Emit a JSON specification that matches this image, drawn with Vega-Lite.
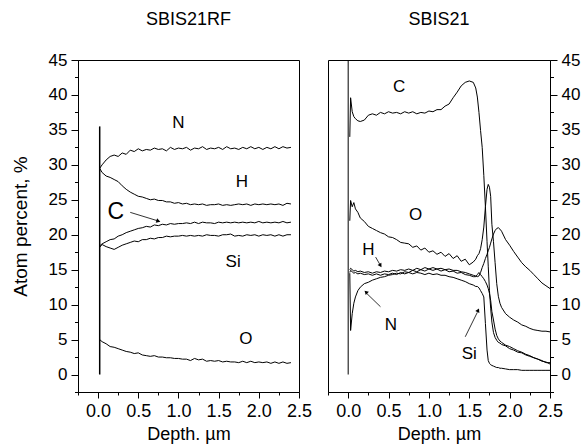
{
  "$schema": "https://vega.github.io/schema/vega-lite/v6.json",
  "padding": {"left": 10, "top": 10, "right": 0, "bottom": 0},
  "bounds": "flush",
  "spacing": 29,
  "config": {
    "font": "Liberation Sans",
    "view": {"stroke": "black", "strokeWidth": 1},
    "axis": {"domainColor": "black", "tickColor": "black", "labelColor": "black", "titleColor": "black", "grid": false, "titleFontWeight": "normal", "domainWidth": 1, "tickWidth": 1, "labelFontSize": 17, "titleFontSize": 18},
    "title": {"fontWeight": "normal", "fontSize": 18, "color": "black"},
    "line": {"color": "black", "strokeWidth": 1},
    "text": {"color": "black", "fontSize": 17}
  },
  "datasets": {
    "left": [
      {"x": 0.02, "N": 29.5, "H": 29.5, "C": 18.4, "Si": 18.2, "O": 5.0},
      {"x": 0.05, "N": 30.0, "H": 28.9, "C": 18.7, "Si": 18.6, "O": 4.7},
      {"x": 0.10, "N": 30.7, "H": 28.4, "C": 19.0, "Si": 18.3, "O": 4.4},
      {"x": 0.15, "N": 31.2, "H": 28.2, "C": 19.3, "Si": 18.1, "O": 4.0},
      {"x": 0.20, "N": 31.4, "H": 27.9, "C": 19.4, "Si": 17.9, "O": 3.9},
      {"x": 0.25, "N": 31.2, "H": 27.6, "C": 19.8, "Si": 18.2, "O": 3.7},
      {"x": 0.30, "N": 31.7, "H": 27.0, "C": 20.0, "Si": 18.5, "O": 3.5},
      {"x": 0.35, "N": 31.5, "H": 26.5, "C": 20.3, "Si": 18.7, "O": 3.3},
      {"x": 0.40, "N": 32.1, "H": 26.1, "C": 20.5, "Si": 18.9, "O": 3.2},
      {"x": 0.45, "N": 31.9, "H": 25.8, "C": 20.7, "Si": 19.1, "O": 3.0},
      {"x": 0.50, "N": 32.3, "H": 25.5, "C": 20.9, "Si": 19.0, "O": 3.1},
      {"x": 0.55, "N": 32.0, "H": 25.4, "C": 21.0, "Si": 19.3, "O": 2.8},
      {"x": 0.60, "N": 32.2, "H": 25.2, "C": 21.2, "Si": 19.3, "O": 2.7},
      {"x": 0.65, "N": 32.1, "H": 25.0, "C": 21.1, "Si": 19.5, "O": 2.6},
      {"x": 0.70, "N": 32.4, "H": 25.1, "C": 21.4, "Si": 19.4, "O": 2.7},
      {"x": 0.75, "N": 32.2, "H": 24.9, "C": 21.3, "Si": 19.6, "O": 2.5},
      {"x": 0.80, "N": 32.3, "H": 24.9, "C": 21.5, "Si": 19.6, "O": 2.5},
      {"x": 0.85, "N": 32.0, "H": 24.7, "C": 21.4, "Si": 19.8, "O": 2.4},
      {"x": 0.90, "N": 32.5, "H": 24.7, "C": 21.6, "Si": 19.7, "O": 2.4},
      {"x": 0.95, "N": 32.2, "H": 24.5, "C": 21.5, "Si": 19.8, "O": 2.3},
      {"x": 1.00, "N": 32.4, "H": 24.6, "C": 21.6, "Si": 19.8, "O": 2.3},
      {"x": 1.05, "N": 32.3, "H": 24.4, "C": 21.6, "Si": 19.9, "O": 2.2},
      {"x": 1.10, "N": 32.5, "H": 24.5, "C": 21.7, "Si": 19.8, "O": 2.2},
      {"x": 1.15, "N": 32.1, "H": 24.3, "C": 21.6, "Si": 19.9, "O": 2.0},
      {"x": 1.20, "N": 32.4, "H": 24.4, "C": 21.8, "Si": 19.8, "O": 2.3},
      {"x": 1.25, "N": 32.3, "H": 24.3, "C": 21.6, "Si": 19.9, "O": 2.1},
      {"x": 1.30, "N": 32.6, "H": 24.4, "C": 21.8, "Si": 19.8, "O": 2.2},
      {"x": 1.35, "N": 32.2, "H": 24.2, "C": 21.7, "Si": 20.0, "O": 1.9},
      {"x": 1.40, "N": 32.4, "H": 24.3, "C": 21.7, "Si": 19.9, "O": 2.0},
      {"x": 1.45, "N": 32.3, "H": 24.3, "C": 21.6, "Si": 19.9, "O": 1.9},
      {"x": 1.50, "N": 32.5, "H": 24.4, "C": 21.8, "Si": 19.8, "O": 2.0},
      {"x": 1.55, "N": 32.2, "H": 24.2, "C": 21.7, "Si": 20.0, "O": 1.8},
      {"x": 1.60, "N": 32.6, "H": 24.3, "C": 21.8, "Si": 20.0, "O": 1.9},
      {"x": 1.65, "N": 32.3, "H": 24.2, "C": 21.7, "Si": 20.1, "O": 1.8},
      {"x": 1.70, "N": 32.4, "H": 24.3, "C": 21.8, "Si": 19.8, "O": 1.8},
      {"x": 1.75, "N": 32.2, "H": 24.4, "C": 21.7, "Si": 19.9, "O": 1.7},
      {"x": 1.80, "N": 32.5, "H": 24.3, "C": 21.8, "Si": 19.8, "O": 1.9},
      {"x": 1.85, "N": 32.3, "H": 24.4, "C": 21.7, "Si": 20.0, "O": 1.7},
      {"x": 1.90, "N": 32.6, "H": 24.2, "C": 21.8, "Si": 19.9, "O": 1.9},
      {"x": 1.95, "N": 32.3, "H": 24.4, "C": 21.7, "Si": 20.0, "O": 1.7},
      {"x": 2.00, "N": 32.5, "H": 24.3, "C": 21.9, "Si": 19.8, "O": 1.8},
      {"x": 2.05, "N": 32.2, "H": 24.4, "C": 21.7, "Si": 20.0, "O": 1.7},
      {"x": 2.10, "N": 32.5, "H": 24.3, "C": 21.8, "Si": 19.9, "O": 1.8},
      {"x": 2.15, "N": 32.3, "H": 24.4, "C": 21.7, "Si": 20.0, "O": 1.6},
      {"x": 2.20, "N": 32.6, "H": 24.3, "C": 21.8, "Si": 19.8, "O": 1.8},
      {"x": 2.25, "N": 32.3, "H": 24.4, "C": 21.7, "Si": 20.0, "O": 1.6},
      {"x": 2.30, "N": 32.6, "H": 24.2, "C": 21.9, "Si": 19.8, "O": 1.8},
      {"x": 2.35, "N": 32.4, "H": 24.5, "C": 21.7, "Si": 20.0, "O": 1.6},
      {"x": 2.40, "N": 32.5, "H": 24.4, "C": 21.8, "Si": 20.0, "O": 1.7}
    ],
    "right": [
      {"x": 0.02, "C": 34.0, "O": 22.0, "H": 15.0, "N": 14.5, "Si": 14.6},
      {"x": 0.03, "C": 39.6, "O": 24.9, "H": 15.2, "N": 6.3, "Si": 14.9},
      {"x": 0.05, "C": 37.6, "O": 24.0, "H": 15.0, "N": 8.7, "Si": 14.7},
      {"x": 0.07, "C": 36.9, "O": 24.6, "H": 14.8, "N": 10.2, "Si": 14.5},
      {"x": 0.09, "C": 36.6, "O": 23.7, "H": 14.9, "N": 11.1, "Si": 14.6},
      {"x": 0.12, "C": 36.3, "O": 23.2, "H": 14.7, "N": 12.0, "Si": 14.4},
      {"x": 0.15, "C": 36.2, "O": 22.4, "H": 14.8, "N": 12.5, "Si": 14.5},
      {"x": 0.20, "C": 36.4, "O": 21.9, "H": 14.6, "N": 13.0, "Si": 14.3},
      {"x": 0.25, "C": 37.1, "O": 21.2, "H": 14.7, "N": 13.2, "Si": 14.4},
      {"x": 0.30, "C": 37.3, "O": 20.9, "H": 14.5, "N": 13.5, "Si": 14.2},
      {"x": 0.35, "C": 37.1, "O": 20.6, "H": 14.7, "N": 13.7, "Si": 14.4},
      {"x": 0.40, "C": 37.5, "O": 20.3, "H": 14.6, "N": 13.9, "Si": 14.2},
      {"x": 0.45, "C": 37.3, "O": 20.1, "H": 14.8, "N": 14.0, "Si": 14.4},
      {"x": 0.50, "C": 37.6, "O": 19.7, "H": 14.7, "N": 14.2, "Si": 14.3},
      {"x": 0.55, "C": 37.4, "O": 19.6, "H": 14.9, "N": 14.3, "Si": 14.5},
      {"x": 0.60, "C": 37.5, "O": 19.3, "H": 14.8, "N": 14.5, "Si": 14.3},
      {"x": 0.65, "C": 37.3, "O": 18.9, "H": 15.0, "N": 14.4, "Si": 14.6},
      {"x": 0.70, "C": 37.6, "O": 18.8, "H": 14.9, "N": 14.7, "Si": 14.4},
      {"x": 0.75, "C": 37.4, "O": 18.7, "H": 15.1, "N": 14.6, "Si": 14.6},
      {"x": 0.80, "C": 37.6, "O": 18.2, "H": 14.9, "N": 14.9, "Si": 14.4},
      {"x": 0.85, "C": 37.3, "O": 18.4, "H": 15.2, "N": 14.7, "Si": 14.6},
      {"x": 0.90, "C": 37.5, "O": 17.8, "H": 15.0, "N": 15.0, "Si": 14.5},
      {"x": 0.95, "C": 37.4, "O": 18.1, "H": 15.3, "N": 14.8, "Si": 14.3},
      {"x": 1.00, "C": 37.7, "O": 17.5, "H": 15.1, "N": 15.1, "Si": 14.5},
      {"x": 1.05, "C": 37.6, "O": 17.7, "H": 15.3, "N": 14.9, "Si": 14.3},
      {"x": 1.10, "C": 37.9, "O": 17.2, "H": 15.1, "N": 15.1, "Si": 14.4},
      {"x": 1.15, "C": 37.9, "O": 17.5, "H": 15.2, "N": 14.8, "Si": 14.2},
      {"x": 1.20, "C": 38.4, "O": 16.9, "H": 15.0, "N": 15.0, "Si": 14.2},
      {"x": 1.25, "C": 38.7, "O": 17.3, "H": 15.1, "N": 14.7, "Si": 14.0},
      {"x": 1.30, "C": 39.6, "O": 16.6, "H": 14.9, "N": 14.8, "Si": 13.9},
      {"x": 1.35, "C": 40.4, "O": 17.0, "H": 14.9, "N": 14.5, "Si": 13.7},
      {"x": 1.40, "C": 41.3, "O": 16.2, "H": 14.7, "N": 14.6, "Si": 13.5},
      {"x": 1.45, "C": 41.8, "O": 16.5, "H": 14.6, "N": 14.3, "Si": 13.3},
      {"x": 1.50, "C": 42.0, "O": 15.7, "H": 14.4, "N": 14.2, "Si": 13.0},
      {"x": 1.55, "C": 41.8, "O": 16.1, "H": 14.2, "N": 14.0, "Si": 12.8},
      {"x": 1.58, "C": 41.0, "O": 16.5, "H": 14.1, "N": 14.0, "Si": 12.6},
      {"x": 1.60, "C": 39.7, "O": 17.0, "H": 14.0, "N": 14.3, "Si": 12.6},
      {"x": 1.62, "C": 37.5, "O": 17.3, "H": 14.1, "N": 14.6, "Si": 12.4},
      {"x": 1.64, "C": 34.9, "O": 18.0, "H": 14.6, "N": 14.3, "Si": 12.0},
      {"x": 1.66, "C": 32.5, "O": 19.3, "H": 15.3, "N": 14.0, "Si": 11.6},
      {"x": 1.68, "C": 28.5, "O": 21.1, "H": 15.9, "N": 13.7, "Si": 11.1},
      {"x": 1.70, "C": 24.0, "O": 24.0, "H": 16.6, "N": 13.3, "Si": 7.3},
      {"x": 1.72, "C": 19.0, "O": 26.5, "H": 17.2, "N": 12.8, "Si": 3.5},
      {"x": 1.735, "C": 15.5, "O": 27.2, "H": 17.7, "N": 12.3, "Si": 2.0},
      {"x": 1.75, "C": 12.0, "O": 26.8, "H": 18.2, "N": 11.6, "Si": 1.6},
      {"x": 1.765, "C": 9.5, "O": 25.5, "H": 18.8, "N": 10.6, "Si": 1.4},
      {"x": 1.78, "C": 7.5, "O": 21.5, "H": 19.4, "N": 9.0, "Si": 1.3},
      {"x": 1.80, "C": 6.0, "O": 19.0, "H": 20.1, "N": 7.8, "Si": 1.2},
      {"x": 1.82, "C": 5.3, "O": 16.0, "H": 20.6, "N": 6.5, "Si": 1.1},
      {"x": 1.84, "C": 4.9, "O": 13.0, "H": 20.9, "N": 5.6, "Si": 1.0},
      {"x": 1.86, "C": 4.6, "O": 11.2, "H": 21.0, "N": 5.1, "Si": 1.0},
      {"x": 1.88, "C": 4.5, "O": 10.2, "H": 20.8, "N": 4.8, "Si": 0.9},
      {"x": 1.90, "C": 4.3, "O": 9.6, "H": 20.5, "N": 4.6, "Si": 0.9},
      {"x": 1.95, "C": 4.1, "O": 8.7, "H": 19.3, "N": 4.2, "Si": 0.8},
      {"x": 2.00, "C": 3.7, "O": 8.2, "H": 18.5, "N": 4.0, "Si": 0.7},
      {"x": 2.05, "C": 3.5, "O": 7.8, "H": 17.6, "N": 3.7, "Si": 0.7},
      {"x": 2.10, "C": 3.2, "O": 7.5, "H": 16.8, "N": 3.4, "Si": 0.7},
      {"x": 2.15, "C": 3.1, "O": 7.1, "H": 16.0, "N": 3.2, "Si": 0.6},
      {"x": 2.20, "C": 2.8, "O": 6.9, "H": 15.4, "N": 2.9, "Si": 0.6},
      {"x": 2.25, "C": 2.6, "O": 6.6, "H": 14.9, "N": 2.7, "Si": 0.6},
      {"x": 2.30, "C": 2.4, "O": 6.4, "H": 14.3, "N": 2.4, "Si": 0.6},
      {"x": 2.35, "C": 2.2, "O": 6.3, "H": 13.7, "N": 2.2, "Si": 0.6},
      {"x": 2.40, "C": 1.9, "O": 6.2, "H": 13.1, "N": 2.0, "Si": 0.6},
      {"x": 2.45, "C": 1.8, "O": 6.2, "H": 12.7, "N": 1.7, "Si": 0.6},
      {"x": 2.50, "C": 1.5, "O": 6.1, "H": 12.3, "N": 1.7, "Si": 0.6}
    ],
    "leftEdge": [{"x": 0.02, "y": 0}, {"x": 0.02, "y": 35.5}],
    "rightEdge": [{"x": 0.0, "y": 0}, {"x": 0.0, "y": 45}],
    "leftLabels": [
      {"x": 1.0, "y": 36.0, "t": "N"},
      {"x": 1.79, "y": 27.5, "t": "H"},
      {"x": 1.68, "y": 16.1, "t": "Si"},
      {"x": 1.84, "y": 5.1, "t": "O"}
    ],
    "leftBig": [{"x": 0.22, "y": 23.2, "t": "C"}],
    "rightLabels": [
      {"x": 0.63, "y": 41.1, "t": "C"},
      {"x": 0.835, "y": 22.8, "t": "O"},
      {"x": 0.25, "y": 17.8, "t": "H"},
      {"x": 0.53, "y": 7.1, "t": "N"},
      {"x": 1.50, "y": 3.0, "t": "Si"}
    ],
    "leftArrows": [
      {"a": "C", "x": 0.40, "y": 23.2}, {"a": "C", "x": 0.74, "y": 22.0}
    ],
    "rightArrows": [
      {"a": "H", "x": 0.34, "y": 16.8}, {"a": "H", "x": 0.39, "y": 15.8},
      {"a": "N", "x": 0.40, "y": 9.7}, {"a": "N", "x": 0.23, "y": 11.6},
      {"a": "Si", "x": 1.45, "y": 5.4}, {"a": "Si", "x": 1.60, "y": 8.9}
    ]
  },
  "hconcat": [
    {
      "width": 221,
      "height": 332,
      "title": {"text": "SBIS21RF", "offset": 22, "frame": "group"},
      "resolve": {"axis": {"x": "independent", "y": "independent"}},
      "layer": [
        {
          "data": {"name": "left"},
          "transform": [{"fold": ["N", "H", "C", "Si", "O"], "as": ["s", "y"]}],
          "mark": {"type": "line", "strokeWidth": 1},
          "encoding": {
            "x": {"field": "x", "type": "quantitative", "scale": {"domain": [-0.25, 2.5], "nice": false, "zero": false},
              "axis": {"title": "Depth. µm", "orient": "bottom", "values": [0, 0.5, 1, 1.5, 2, 2.5], "format": ".1f", "tickSize": 6,
                "labelFontSize": 18, "labelPadding": 4, "titlePadding": 5, "labelFlush": false}},
            "y": {"field": "y", "type": "quantitative", "scale": {"domain": [-2.5, 45], "nice": false, "zero": false},
              "axis": {"title": "Atom percent, %", "orient": "left", "values": [0, 5, 10, 15, 20, 25, 30, 35, 40, 45], "tickSize": 7,
                "titleFontSize": 19, "labelPadding": 4, "titlePadding": 18, "labelFlush": false}},
            "detail": {"field": "s"}
          }
        },
        {
          "data": {"name": "leftEdge"},
          "mark": {"type": "line", "strokeWidth": 1.5},
          "encoding": {
            "x": {"field": "x", "type": "quantitative",
              "axis": {"orient": "bottom", "values": [-0.25, 0.25, 0.75, 1.25, 1.75, 2.25], "labels": false, "domain": false, "title": null, "tickSize": 3}},
            "y": {"field": "y", "type": "quantitative",
              "axis": {"orient": "left", "values": [-2.5, 2.5, 7.5, 12.5, 17.5, 22.5, 27.5, 32.5, 37.5, 42.5], "labels": false, "domain": false, "title": null, "tickSize": 3.5}}
          }
        },
        {
          "data": {"name": "leftLabels"},
          "mark": {"type": "text", "fontSize": 17},
          "encoding": {
            "x": {"field": "x", "type": "quantitative", "axis": null},
            "y": {"field": "y", "type": "quantitative", "axis": null},
            "text": {"field": "t"}
          }
        },
        {
          "data": {"name": "leftBig"},
          "mark": {"type": "text", "fontSize": 23},
          "encoding": {
            "x": {"field": "x", "type": "quantitative", "axis": null},
            "y": {"field": "y", "type": "quantitative", "axis": null},
            "text": {"field": "t"}
          }
        },
        {
          "data": {"name": "leftArrows"},
          "mark": {"type": "line", "strokeWidth": 0.8},
          "encoding": {
            "x": {"field": "x", "type": "quantitative", "axis": null},
            "y": {"field": "y", "type": "quantitative", "axis": null},
            "detail": {"field": "a"}
          }
        },
        {
          "data": {"values": [{"x": 0.75, "y": 21.95}]},
          "mark": {"type": "point", "shape": "triangle-right", "filled": true, "color": "black", "size": 22, "angle": 17, "opacity": 1},
          "encoding": {
            "x": {"field": "x", "type": "quantitative", "axis": null},
            "y": {"field": "y", "type": "quantitative", "axis": null}
          }
        }
      ]
    },
    {
      "width": 222,
      "height": 332,
      "title": {"text": "SBIS21", "offset": 22, "frame": "group"},
      "resolve": {"axis": {"x": "independent", "y": "independent"}},
      "layer": [
        {
          "data": {"name": "right"},
          "transform": [{"fold": ["C", "O", "H", "N", "Si"], "as": ["s", "y"]}],
          "mark": {"type": "line", "strokeWidth": 1},
          "encoding": {
            "x": {"field": "x", "type": "quantitative", "scale": {"domain": [-0.25, 2.5], "nice": false, "zero": false},
              "axis": {"title": "Depth. µm", "orient": "bottom", "values": [0, 0.5, 1, 1.5, 2, 2.5], "format": ".1f", "tickSize": 6,
                "labelFontSize": 18, "labelPadding": 4, "titlePadding": 5, "labelFlush": false}},
            "y": {"field": "y", "type": "quantitative", "scale": {"domain": [-2.5, 45], "nice": false, "zero": false},
              "axis": {"title": null, "orient": "right", "values": [0, 5, 10, 15, 20, 25, 30, 35, 40, 45], "tickSize": 7,
                "labelPadding": 4, "labelFlush": false}},
            "detail": {"field": "s"}
          }
        },
        {
          "data": {"name": "rightEdge"},
          "mark": {"type": "line", "strokeWidth": 1},
          "encoding": {
            "x": {"field": "x", "type": "quantitative",
              "axis": {"orient": "bottom", "values": [-0.25, 0.25, 0.75, 1.25, 1.75, 2.25], "labels": false, "domain": false, "title": null, "tickSize": 3}},
            "y": {"field": "y", "type": "quantitative",
              "axis": {"orient": "right", "values": [-2.5, 2.5, 7.5, 12.5, 17.5, 22.5, 27.5, 32.5, 37.5, 42.5], "labels": false, "domain": false, "title": null, "tickSize": 3.5}}
          }
        },
        {
          "data": {"name": "rightLabels"},
          "mark": {"type": "text", "fontSize": 17},
          "encoding": {
            "x": {"field": "x", "type": "quantitative", "axis": null},
            "y": {"field": "y", "type": "quantitative", "axis": null},
            "text": {"field": "t"}
          }
        },
        {
          "data": {"name": "rightArrows"},
          "mark": {"type": "line", "strokeWidth": 0.8},
          "encoding": {
            "x": {"field": "x", "type": "quantitative", "axis": null},
            "y": {"field": "y", "type": "quantitative", "axis": null},
            "detail": {"field": "a"}
          }
        },
        {
          "data": {"values": [{"x": 0.40, "y": 15.6}]},
          "mark": {"type": "point", "shape": "triangle-right", "filled": true, "color": "black", "size": 20, "angle": 58, "opacity": 1},
          "encoding": {
            "x": {"field": "x", "type": "quantitative", "axis": null},
            "y": {"field": "y", "type": "quantitative", "axis": null}
          }
        },
        {
          "data": {"values": [{"x": 0.22, "y": 11.8}]},
          "mark": {"type": "point", "shape": "triangle-right", "filled": true, "color": "black", "size": 20, "angle": 225, "opacity": 1},
          "encoding": {
            "x": {"field": "x", "type": "quantitative", "axis": null},
            "y": {"field": "y", "type": "quantitative", "axis": null}
          }
        },
        {
          "data": {"values": [{"x": 1.61, "y": 9.2}]},
          "mark": {"type": "point", "shape": "triangle-right", "filled": true, "color": "black", "size": 20, "angle": 295, "opacity": 1},
          "encoding": {
            "x": {"field": "x", "type": "quantitative", "axis": null},
            "y": {"field": "y", "type": "quantitative", "axis": null}
          }
        }
      ]
    }
  ]
}
